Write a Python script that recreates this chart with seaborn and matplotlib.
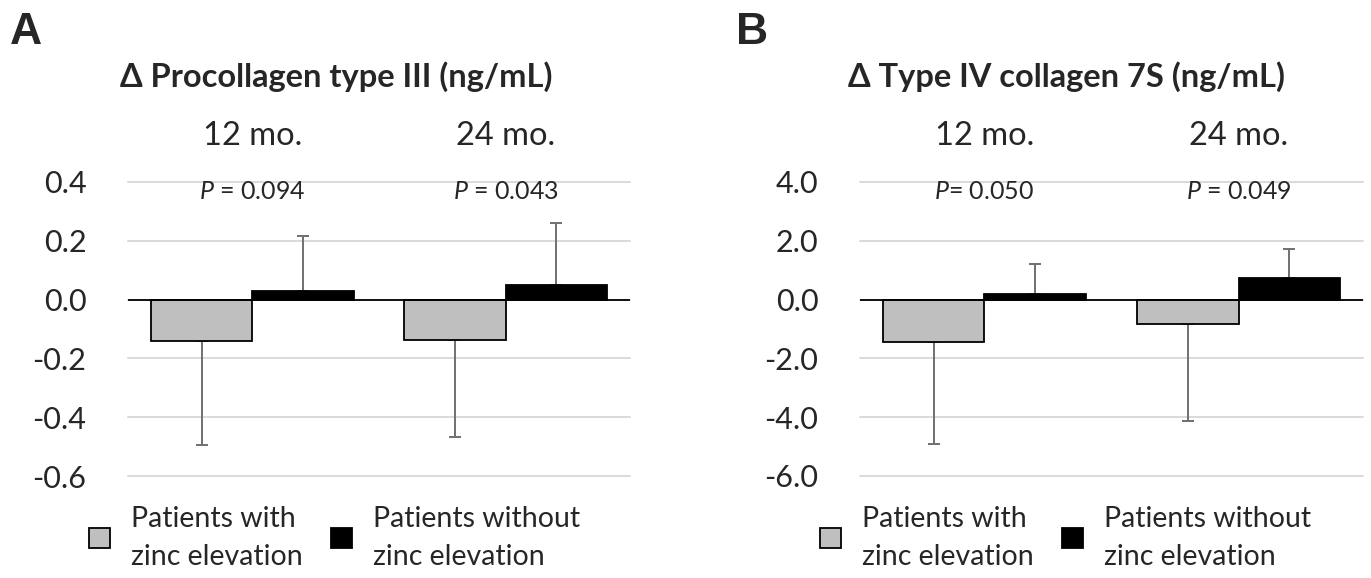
import numpy as np
import pandas as pd
import matplotlib
matplotlib.use("Agg")
import matplotlib.pyplot as plt
import seaborn as sns

# values
months = ["12 mo.", "24 mo."]
groups = ["Patients with\nzinc elevation", "Patients without\nzinc elevation"]

pro3_with = [-0.140, -0.136]
pro3_with_sd = [0.355, 0.330]
pro3_without = [0.028, 0.051]
pro3_without_sd = [0.188, 0.210]
pro3_p = ["$P$ = 0.094", "$P$ = 0.043"]

col4_with = [-1.43, -0.83]
col4_with_sd = [3.49, 3.29]
col4_without = [0.19, 0.73]
col4_without_sd = [1.02, 0.99]
col4_p = ["$P$= 0.050", "$P$ = 0.049"]

sns.set_style("white")
plt.rcParams["font.family"] = ["Lato", "DejaVu Sans"]
plt.rcParams["mathtext.fontset"] = "custom"
plt.rcParams["mathtext.it"] = "Lato:italic"
plt.rcParams["mathtext.rm"] = "Lato"

gray = "#bfbfbf"
colors = [gray, "black"]


def make_df(v_with, v_without, sd_with, sd_without):
    return pd.DataFrame({
        "month": months * 2,
        "group": [groups[0]] * 2 + [groups[1]] * 2,
        "value": v_with + v_without,
        "sd": sd_with + sd_without,
    })


fig = plt.figure(figsize=(13.71, 5.78), dpi=100)
ax_a = fig.add_axes([128 / 1371, 102 / 578, 502 / 1371, 294 / 578])
ax_b = fig.add_axes([860 / 1371, 102 / 578, 503 / 1371, 294 / 578])

panels = [
    (ax_a, make_df(pro3_with, pro3_without, pro3_with_sd, pro3_without_sd),
     pro3_p, (-0.6, 0.4), np.arange(-0.6, 0.41, 0.2)),
    (ax_b, make_df(col4_with, col4_without, col4_with_sd, col4_without_sd),
     col4_p, (-6, 4), np.arange(-6, 4.1, 2)),
]

for ax, df, pvals, ylim, ticks in panels:
    sns.barplot(data=df, x="month", y="value", hue="group", palette=colors,
                edgecolor="black", linewidth=1.3, errorbar=None, ax=ax,
                zorder=3)
    # one-sided error bars at bar centres
    for container, grp in zip(ax.containers, groups):
        sub = df[df["group"] == grp]
        xs = [p.get_x() + p.get_width() / 2 for p in container.patches]
        vals = sub["value"].to_numpy()
        sds = sub["sd"].to_numpy()
        if grp == groups[0]:
            yerr = [sds, np.zeros_like(sds)]
        else:
            yerr = [np.zeros_like(sds), sds]
        ax.errorbar(xs, vals, yerr=yerr, fmt="none", ecolor="#707070",
                    elinewidth=1.4, capsize=4, capthick=1.4, zorder=2)

    ax.set_ylim(*ylim)
    ax.set_yticks(ticks)
    ax.set_yticklabels([f"{t:.1f}" for t in ticks], fontsize=22)
    ax.yaxis.grid(True, color="#d9d9d9", linewidth=1.4, zorder=0)
    for gl in ax.get_ygridlines():
        gl.set_clip_on(False)
    ax.axhline(0, color="black", linewidth=1.3, zorder=4)
    ax.tick_params(axis="y", length=0, pad=30)
    ax.set_xticks([])
    ax.set_xlabel("")
    ax.set_ylabel("")
    sns.despine(ax=ax, left=True, bottom=True)

    for i, (m, p) in enumerate(zip(months, pvals)):
        ax.text(i, 1.156, m, transform=ax.get_xaxis_transform(),
                ha="center", va="center", fontsize=23.5)
        ax.text(i, 0.966, p, transform=ax.get_xaxis_transform(),
                ha="center", va="center", fontsize=18)

    handles, labels = ax.get_legend_handles_labels()
    ax.get_legend().remove()

for ax, x0 in [(ax_a, 89), (ax_b, 820)]:
    leg = ax.legend(handles, labels, ncol=2, frameon=False, fontsize=20.5,
                    loc="upper left", bbox_to_anchor=(x0 / 1371, 1 - 506 / 578),
                    bbox_transform=fig.transFigure, borderaxespad=0,
                    borderpad=0, handlelength=0.72, handleheight=0.72,
                    handletextpad=0.75, columnspacing=1.0)
    for t in leg.get_texts():
        t.set_linespacing(1.55)

fig.text(336 / 1371, 1 - 77 / 578, "Δ Procollagen type III (ng/mL)",
         ha="center", va="center", fontsize=23.5, fontweight="bold")
fig.text(1066 / 1371, 1 - 77 / 578, "Δ Type IV collagen 7S (ng/mL)",
         ha="center", va="center", fontsize=23.5, fontweight="bold")
fig.text(26 / 1371, 1 - 33 / 578, "A", ha="center", va="center",
         fontsize=32, fontweight="bold", family="Liberation Sans")
fig.text(752 / 1371, 1 - 33 / 578, "B", ha="center", va="center",
         fontsize=32, fontweight="bold", family="Liberation Sans")

fig.savefig("out.png", dpi=100)
